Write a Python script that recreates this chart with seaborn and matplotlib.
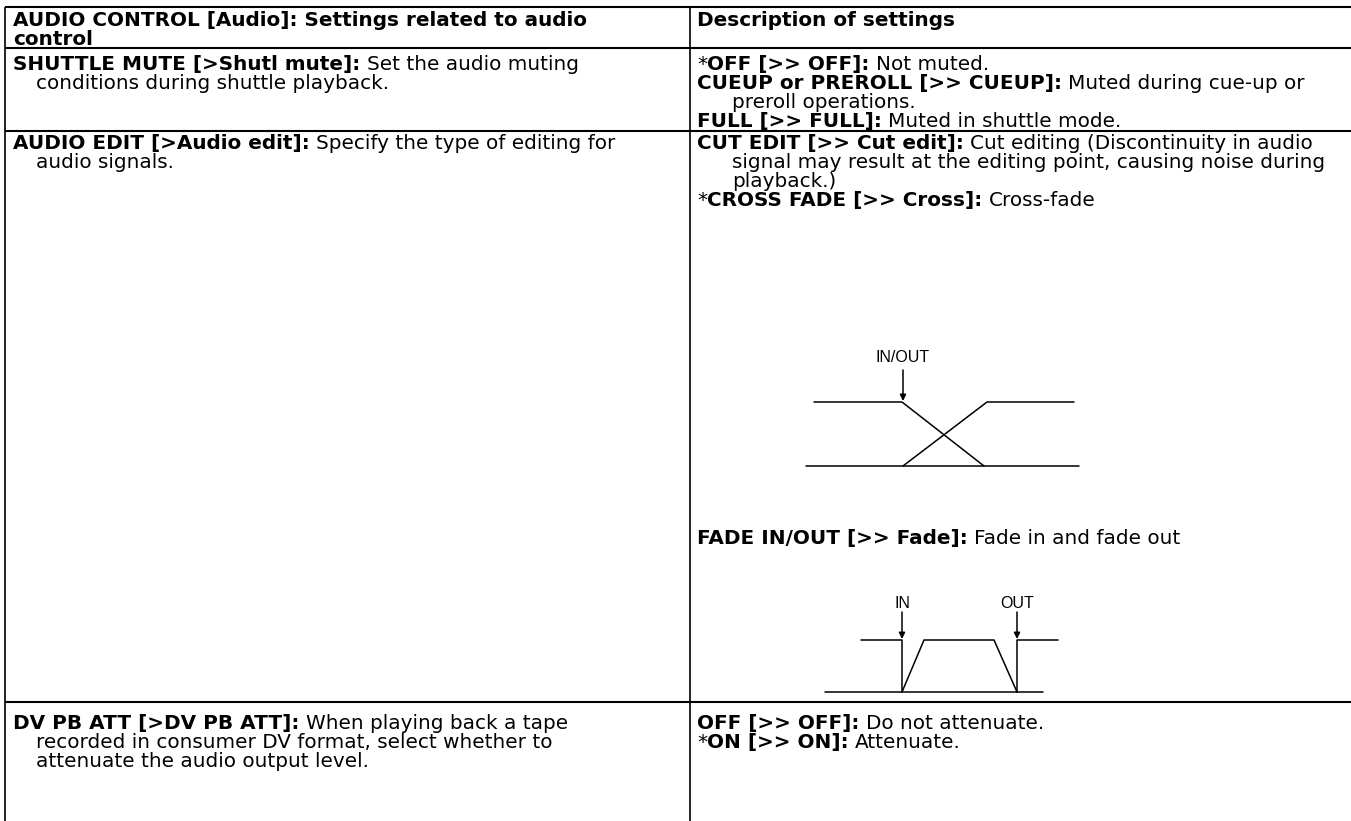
import matplotlib
matplotlib.use("Agg")
import matplotlib.pyplot as plt
import seaborn as sns

# table text: each cell is a list of (indent, [(text, bold), ...]) lines
header_left = [
    (0, [("AUDIO CONTROL [Audio]: Settings related to audio", 1)]),
    (0, [("control", 1)]),
]
header_right = [
    (0, [("Description of settings", 1)]),
]
shuttle_left = [
    (0, [("SHUTTLE MUTE [>Shutl mute]:", 1), (" Set the audio muting", 0)]),
    (1, [("conditions during shuttle playback.", 0)]),
]
shuttle_right = [
    (0, [("*", 0), ("OFF [>> OFF]:", 1), (" Not muted.", 0)]),
    (0, [("CUEUP or PREROLL [>> CUEUP]:", 1), (" Muted during cue-up or", 0)]),
    (1, [("preroll operations.", 0)]),
    (0, [("FULL [>> FULL]:", 1), (" Muted in shuttle mode.", 0)]),
]
edit_left = [
    (0, [("AUDIO EDIT [>Audio edit]:", 1), (" Specify the type of editing for", 0)]),
    (1, [("audio signals.", 0)]),
]
edit_right = [
    (0, [("CUT EDIT [>> Cut edit]:", 1), (" Cut editing (Discontinuity in audio", 0)]),
    (1, [("signal may result at the editing point, causing noise during", 0)]),
    (1, [("playback.)", 0)]),
    (0, [("*", 0), ("CROSS FADE [>> Cross]:", 1), (" Cross-fade", 0)]),
]
fade_title = [
    (0, [("FADE IN/OUT [>> Fade]:", 1), (" Fade in and fade out", 0)]),
]
att_left = [
    (0, [("DV PB ATT [>DV PB ATT]:", 1), (" When playing back a tape", 0)]),
    (1, [("recorded in consumer DV format, select whether to", 0)]),
    (1, [("attenuate the audio output level.", 0)]),
]
att_right = [
    (0, [("OFF [>> OFF]:", 1), (" Do not attenuate.", 0)]),
    (0, [("*", 0), ("ON [>> ON]:", 1), (" Attenuate.", 0)]),
]

# cross-fade diagram polylines (pixel units)
xfade_out_x = [814, 902, 984]
xfade_out_y = [402, 402, 466]
xfade_in_x = [903, 987, 1074]
xfade_in_y = [466, 402, 402]
xfade_base_x = [806, 1079]
xfade_base_y = [466, 466]

# fade in/out diagram polylines
fade_out_x = [861, 902, 902]
fade_out_y = [640, 640, 692]
fade_ramp_x = [902, 924, 994, 1017]
fade_ramp_y = [692, 640, 640, 692]
fade_in_x = [1017, 1017, 1058]
fade_in_y = [692, 640, 640]
fade_base_x = [825, 1043]
fade_base_y = [692, 692]

# marker labels: (text, x, label y, arrow start, arrow end)
xfade_marks = [("IN/OUT", 903, 358, 370, 401)]
fade_marks = [("IN", 902, 603, 612, 639), ("OUT", 1017, 603, 612, 639)]

# table grid
row_lines = [7, 48, 131, 702]
col_lines = [5, 690]

W, H = 1351, 821
STEP = 19
X_L, X_R = 13, 697
IND_L, IND_R = 23, 35
FIT_RIGHT = 1322   # end of the "signal may result ..." line

sns.set_theme(style="white")
plt.rcParams['font.family'] = ['DejaVu Sans']

fig = plt.figure(figsize=(W / 100, H / 100), dpi=100)
ax = fig.add_axes([0, 0, 1, 1])
ax.set_xlim(0, W)
ax.set_ylim(H, 0)
ax.axis('off')

renderer = fig.canvas.get_renderer()

# pick the font size so the longest right-column line ends where it should
probe = ax.text(0, 0, edit_right[1][1][0][0], fontsize=10)
pw = probe.get_window_extent(renderer=renderer).width
probe.remove()
FS = 10 * (FIT_RIGHT - X_R - IND_R) / pw
em = FS * 100 / 72
space_px = 0.318 * em
base_off = 0.36 * em


def draw_cell(lines, x0, y0, ind_px):
    for i, (ind, segs) in enumerate(lines):
        x = x0 + ind * ind_px
        y = y0 + i * STEP + base_off
        for txt, bold in segs:
            n = len(txt) - len(txt.lstrip(' '))
            x += n * space_px
            t = ax.text(x, y, txt.lstrip(' '), fontsize=FS,
                        fontweight='bold' if bold else 'normal',
                        va='baseline', ha='left', color='black')
            bb = t.get_window_extent(renderer=renderer)
            x = ax.transData.inverted().transform((bb.x1, bb.y0))[0]


draw_cell(header_left, X_L, 19, IND_L)
draw_cell(header_right, X_R, 19, IND_R)
draw_cell(shuttle_left, X_L, 63, IND_L)
draw_cell(shuttle_right, X_R, 63, IND_R)
draw_cell(edit_left, X_L, 142, IND_L)
draw_cell(edit_right, X_R, 142, IND_R)
draw_cell(fade_title, X_R, 537, IND_R)
draw_cell(att_left, X_L, 722, IND_L)
draw_cell(att_right, X_R, 722, IND_R)

# grid
for y in row_lines:
    ax.plot([col_lines[0], W], [y, y], color='black', lw=1.5, solid_capstyle='butt')
for x in col_lines:
    ax.plot([x, x], [row_lines[0], H], color='black', lw=1.2, solid_capstyle='butt')

# diagrams
for xs, ys in [(xfade_out_x, xfade_out_y), (xfade_in_x, xfade_in_y),
               (xfade_base_x, xfade_base_y), (fade_out_x, fade_out_y),
               (fade_ramp_x, fade_ramp_y), (fade_in_x, fade_in_y),
               (fade_base_x, fade_base_y)]:
    sns.lineplot(x=xs, y=ys, sort=False, estimator=None, color='black',
                 lw=1.1, ax=ax)

for label, x, ly, a0, a1 in xfade_marks + fade_marks:
    ax.text(x, ly, label, fontsize=11.5, ha='center', va='center', color='black',
            family='Liberation Sans')
    ax.annotate("", xy=(x, a1), xytext=(x, a0),
                arrowprops=dict(arrowstyle='-|>', color='black', lw=1.1,
                                mutation_scale=9, shrinkA=0, shrinkB=0))

ax.set_xlim(0, W)
ax.set_ylim(H, 0)
fig.savefig('out.png', dpi=100)
